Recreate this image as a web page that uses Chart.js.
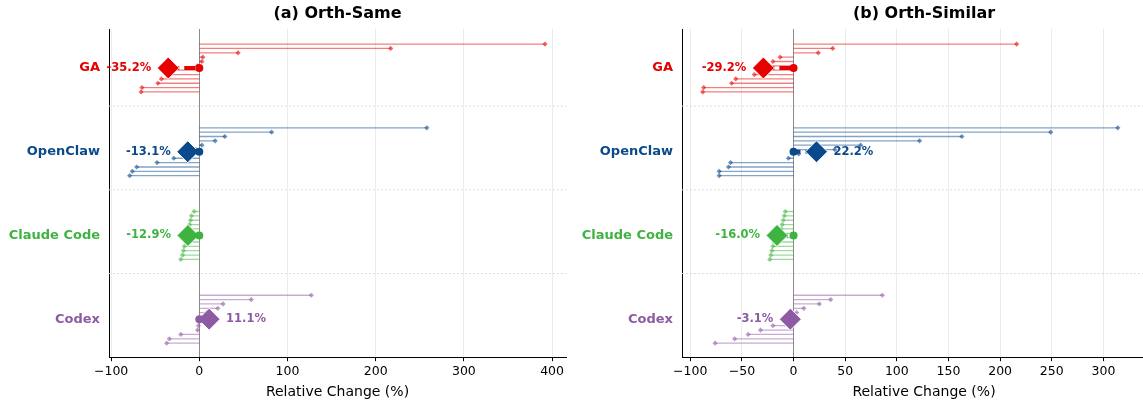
<!DOCTYPE html>
<html>
<head>
<meta charset="utf-8">
<script src="https://cdn.jsdelivr.net/npm/chart.js@4.4.1/dist/chart.umd.min.js"></script>
<style>
  html, body { margin: 0; padding: 0; background: #fff; overflow: hidden; }
  body { width: 1143px; height: 407px; position: relative; }
  #sameChart { position: absolute; left: 0; top: 0; }
  #similarChart { position: absolute; left: 573px; top: 0; }
</style>
</head>
<body>
<canvas id="sameChart" width="578" height="407"></canvas>
<canvas id="similarChart" width="605" height="407"></canvas>
<script>
const categories = ["GA", "OpenClaw", "Claude Code", "Codex"];
const catColors = ["#e60000", "#0a4a8c", "#3fb33f", "#8e5ba3"];

// per-run relative change (%), sorted high to low inside each agent
const sameGA = [392, 217, 44, 4, 3, -2, -30, -33, -43, -47, -65, -66];
const sameOpenClaw = [258, 82, 29, 18, 3, -4, -10, -29, -48, -71, -76, -79];
const sameClaudeCode = [-6, -9, -10, -11, -12, -13, -14, -15, -17, -18, -19, -21];
const sameCodex = [127, 59, 27, 21, 8, 3, 0, -1, -2, -21, -34, -37];
const sameMeans = [-35.2, -13.1, -12.9, 11.1];

const similarGA = [216, 38, 24, -13, -20, -25, -33, -38, -56, -60, -87, -88];
const similarOpenClaw = [314, 249, 163, 122, 65, 40, 5, -5, -61, -63, -72, -72];
const similarClaudeCode = [-8, -9, -10, -11, -12, -14, -17, -19, -20, -21, -22, -23];
const similarCodex = [86, 36, 25, 10, 3, 0, -8, -20, -32, -44, -57, -76];
const similarMeans = [-29.2, 22.2, -16.0, -3.1];

const sameTicks = [-100, 0, 100, 200, 300, 400];
const similarTicks = [-100, -50, 0, 50, 100, 150, 200, 250, 300];

const FONT = "DejaVu Sans";
const ROW_GAP = 0.052;

function fade(hex, a) {
  const n = parseInt(hex.slice(1), 16);
  return `rgba(${(n >> 16) & 255}, ${(n >> 8) & 255}, ${n & 255}, ${a})`;
}

function buildDatasets(runs, means, xMin, xMax) {
  const sets = [];
  runs.forEach((vals, i) => {
    const col = catColors[i];
    vals.forEach((v, k) => {
      const y = i + (k - (vals.length - 1) / 2) * ROW_GAP;
      sets.push({
        data: [{ x: 0, y: y }, { x: v, y: y }],
        showLine: true,
        borderColor: fade(col, 0.5),
        borderWidth: 1.3,
        pointStyle: "rectRot",
        pointRadius: [0, 2.6],
        pointBackgroundColor: fade(col, 0.6),
        pointBorderWidth: 0,
        order: 3,
      });
    });
    // mean: dashed stem from 0, dot at 0, big diamond at the mean
    sets.push({
      data: [{ x: means[i], y: i }, { x: 0, y: i }],
      showLine: true,
      borderColor: col,
      borderWidth: 4,
      borderDash: [11, 5],
      pointStyle: ["rectRot", "circle"],
      pointRadius: [11, 4],
      pointBackgroundColor: col,
      pointBorderColor: ["#ffffff", col],
      pointBorderWidth: [1, 0],
      order: 1,
    });
  });
  // dotted dividers between agents
  [0.455, 1.455, 2.455].forEach((y) => {
    sets.push({
      data: [{ x: xMin, y: y }, { x: xMax, y: y }],
      showLine: true,
      borderColor: "#cfcfcf",
      borderWidth: 1,
      borderDash: [1.5, 2.5],
      pointRadius: 0,
      order: 5,
    });
  });
  return sets;
}

const meanLabels = {
  id: "meanLabels",
  afterDatasetsDraw(chart, args, opts) {
    const {
      ctx,
      chartArea: { left, right },
      scales: { x, y },
    } = chart;
    ctx.save();
    ctx.textBaseline = "middle";
    ctx.font = `bold 11.5px '${FONT}'`;
    opts.means.forEach((m, i) => {
      const px = x.getPixelForValue(m);
      const py = y.getPixelForValue(i);
      ctx.fillStyle = catColors[i];
      ctx.textAlign = m < 0 ? "right" : "left";
      ctx.fillText(`${m.toFixed(1)}%`, m < 0 ? px - 17 : px + 17, py);
    });

    // panel title, centred on the plot area
    ctx.font = `bold 16px '${FONT}'`;
    ctx.fillStyle = "#000";
    ctx.textAlign = "center";
    ctx.textBaseline = "alphabetic";
    ctx.fillText(opts.title, (left + right) / 2, 18);
    ctx.restore();
  },
};

function panelOptions(ticks, xMin, xMax, padRight, means, title) {
  return {
    responsive: false,
    animation: false,
    events: [],
    layout: { padding: { top: 29, right: padRight, bottom: 2, left: 0 } },
    scales: {
      x: {
        type: "linear",
        min: xMin,
        max: xMax,
        afterBuildTicks: (scale) => {
          scale.ticks = ticks.map((v) => ({ value: v }));
        },
        grid: {
          color: (c) => (c.tick && c.tick.value === 0 ? "#8c8c8c" : "#ebebeb"),
          tickLength: 4,
          tickColor: "#000",
        },
        border: { color: "#000", width: 1 },
        ticks: {
          color: "#000",
          padding: 3,
          maxRotation: 0,
          autoSkip: false,
          font: { family: FONT, size: 12.5 },
          callback: (v) => (v < 0 ? "\u2212" + Math.abs(v) : String(v)),
        },
        title: {
          display: true,
          text: "Relative Change (%)",
          color: "#000",
          font: { family: FONT, size: 14 },
          padding: { top: 2, bottom: 4 },
        },
      },
      y: {
        type: "linear",
        reverse: true,
        min: -0.466,
        max: 3.454,
        afterBuildTicks: (scale) => {
          scale.ticks = categories.map((c, i) => ({ value: i }));
        },
        afterFit: (scale) => {
          scale.width = 109;
        },
        grid: { display: false, drawTicks: false, tickLength: 0 },
        border: { color: "#000", width: 1 },
        ticks: {
          padding: 9,
          color: (c) => catColors[c.index],
          font: { family: FONT, size: 13, weight: "bold" },
          callback: (v) => categories[v],
        },
      },
    },
    plugins: {
      legend: { display: false },
      tooltip: { enabled: false },
      meanLabels: { means: means, title: title },
    },
  };
}

const sameCtx = document.getElementById("sameChart").getContext("2d");
const sameChart = new Chart(sameCtx, {
  type: "scatter",
  data: {
    datasets: buildDatasets(
      [sameGA, sameOpenClaw, sameClaudeCode, sameCodex],
      sameMeans,
      -102.4,
      415.8
    ),
  },
  options: panelOptions(sameTicks, -102.4, 415.8, 6, sameMeans, "(a) Orth-Same"),
  plugins: [meanLabels],
});

const similarCtx = document.getElementById("similarChart").getContext("2d");
const similarChart = new Chart(similarCtx, {
  type: "scatter",
  data: {
    datasets: buildDatasets(
      [similarGA, similarOpenClaw, similarClaudeCode, similarCodex],
      similarMeans,
      -108,
      360.6
    ),
  },
  options: panelOptions(similarTicks, -108, 360.6, 4, similarMeans, "(b) Orth-Similar"),
  plugins: [meanLabels],
});
</script>
</body>
</html>
